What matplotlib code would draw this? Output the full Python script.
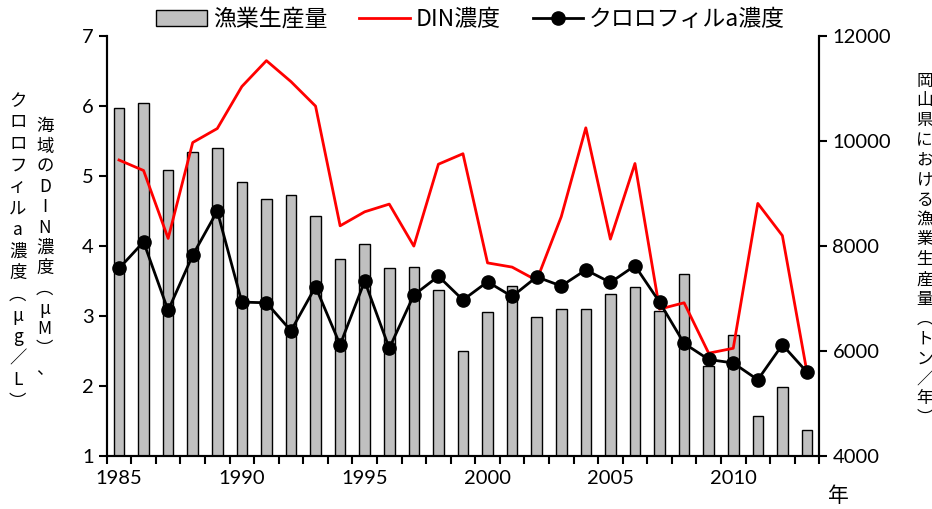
import matplotlib
matplotlib.use("Agg")

import matplotlib.pyplot as plt
import numpy as np

plt.rcParams['font.family'] = ['Noto Sans CJK JP', 'DejaVu Sans']

# 年ごとのデータ
years = list(range(1985, 2014))
catch = [10630, 10730, 9450, 9800, 9860, 9225, 8895, 8970, 8570, 7760,
         8045, 7590, 7600, 7170, 6005, 6750, 7245, 6655, 6795, 6805,
         7085, 7230, 6760, 7475, 5715, 6305, 4755, 5315, 4500]
din = [5.23, 5.08, 4.11, 5.48, 5.68, 6.28, 6.65, 6.35, 6.00, 4.29,
       4.49, 4.60, 4.00, 5.17, 5.32, 3.76, 3.70, 3.51, 4.42, 5.69,
       4.10, 5.18, 3.10, 3.19, 2.47, 2.54, 4.61, 4.15, 2.20]
chl = [3.68, 4.06, 3.08, 3.87, 4.50, 3.20, 3.19, 2.79, 3.42, 2.59,
       3.50, 2.54, 3.30, 3.57, 3.23, 3.49, 3.28, 3.56, 3.43, 3.66,
       3.48, 3.72, 3.20, 2.61, 2.38, 2.33, 2.09, 2.59, 2.20]

x = np.arange(len(years))
num_font = 'Lato'

fig = plt.figure(figsize=(9.32, 5.09), dpi=100)
ax = fig.add_axes([0.1145, 0.104, 0.7645, 0.825])
ax2 = ax.twinx()

# 漁業生産量（右軸）
ax2.bar(x, catch, width=0.43, color='#c0c0c0', edgecolor='black', linewidth=1,
        label='漁業生産量')
ax2.set_ylim(4000, 12000)
ax2.set_yticks([4000, 6000, 8000, 10000, 12000])

# 濃度（左軸）
ax.plot(x, din, color='red', lw=2, label='DIN濃度')
ax.plot(x, chl, color='black', lw=2, marker='o', markersize=9.5,
        label='クロロフィルa濃度')
ax.set_ylim(1, 7)
ax.set_yticks(range(1, 8))
ax.set_xlim(-0.5, len(years) - 0.5)

ax.set_zorder(ax2.get_zorder() + 1)
ax.patch.set_visible(False)

# x軸: 目盛りは区切り、ラベルは5年ごと
ax.set_xticks(np.arange(-0.5, len(years), 1))
ax.set_xticklabels([])
lab_pos = [i for i, y in enumerate(years) if y % 5 == 0]
ax.set_xticks(lab_pos, minor=True)
ax.set_xticklabels([str(years[i]) for i in lab_pos], minor=True,
                   fontsize=14.5, family=num_font)
ax.tick_params(axis='x', which='major', direction='out', length=6, width=1.5)
ax.tick_params(axis='x', which='minor', length=0, pad=10)

ax.tick_params(axis='y', direction='out', length=6, width=1.5, labelsize=14.5)
ax2.tick_params(axis='y', direction='out', length=6, width=1.5, labelsize=14.5)
for lbl in ax.get_yticklabels() + ax2.get_yticklabels():
    lbl.set_family(num_font)

for a in (ax, ax2):
    a.spines['top'].set_visible(False)
    for s in ('left', 'right', 'bottom'):
        a.spines[s].set_linewidth(1.5)

# 軸ラベル（縦書き）
def vtext(xp, yp, chars, size, spacing):
    fig.text(xp, yp, "\n".join(chars), ha='center', va='center',
             fontsize=size, linespacing=spacing)

vtext(0.019, 0.506, ['ク', 'ロ', 'ロ', 'フ', 'ィ', 'ル', 'a', '濃', '度', '︵',
                     'μ', 'g', '／', 'L', '︶'], 12.5, 1.25)
vtext(0.048, 0.513, ['海', '域', 'の', 'D', 'I', 'N', '濃', '度', '︵', 'μ',
                     'M', '︶', '、'], 12.5, 1.16)
vtext(0.992, 0.509, ['岡', '山', '県', 'に', 'お', 'け', 'る', '漁', '業', '生',
                     '産', '量', '︵', 'ト', 'ン', '／', '年', '︶'], 12, 1.22)
fig.text(0.9, 0.025, '年', ha='center', va='center', fontsize=15)

h1, l1 = ax2.get_legend_handles_labels()
h2, l2 = ax.get_legend_handles_labels()
fig.legend(h1 + h2, l1 + l2, loc='center', bbox_to_anchor=(0.505, 0.962),
           ncol=3, frameon=False, fontsize=16.5, handlelength=2.2,
           handletextpad=0.26, columnspacing=1.4)

fig.savefig("out.png", dpi=100)
